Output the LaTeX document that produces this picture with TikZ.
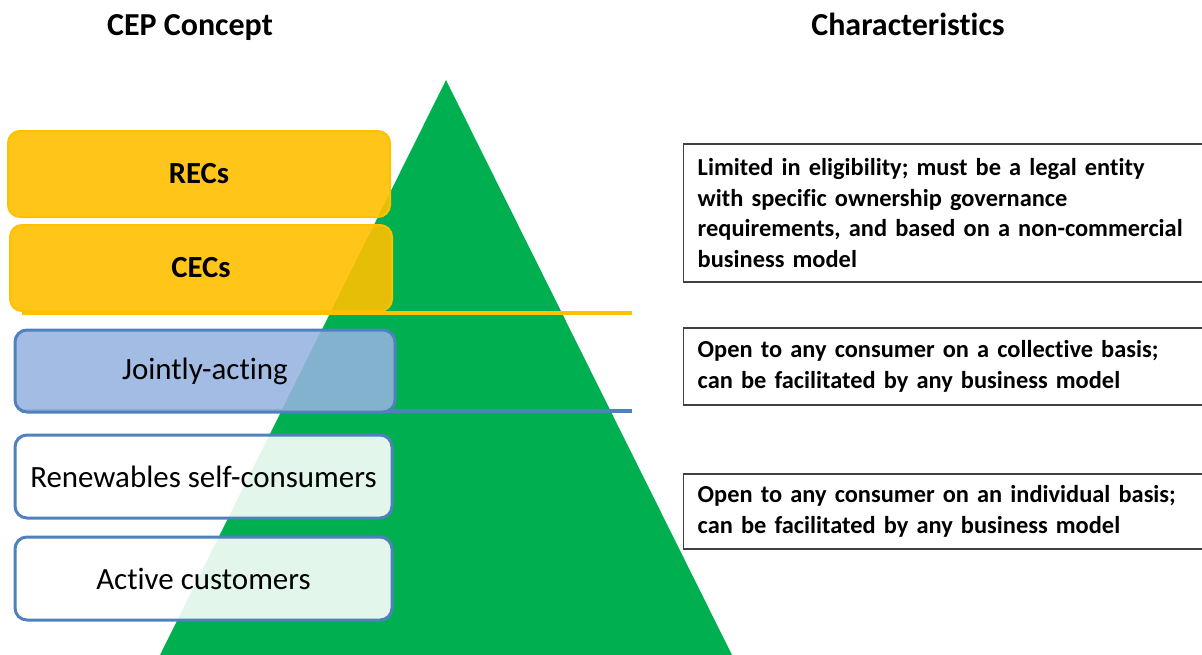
\documentclass[tikz,border=0pt]{standalone}
\usepackage{fontspec}
\setmainfont{Carlito}[Ligatures={NoCommon,NoRequired}, Contextuals=NoAlternate]
\definecolor{trigreen}{HTML}{00B050}
\definecolor{goldline}{HTML}{FFC000}
\definecolor{goldfill}{HTML}{FFC000}
\definecolor{bluefill}{HTML}{95B3E0}
\definecolor{blueline}{HTML}{4F81BD}
\definecolor{charline}{HTML}{404040}
\begin{document}
\begin{tikzpicture}[x=0.75pt,y=-0.75pt,
  header/.style={font=\fontsize{24pt}{28pt}\selectfont\bfseries, inner sep=0pt, anchor=base},
  ybox/.style={draw=goldline, line width=1.5pt, fill=goldfill, fill opacity=0.9, text opacity=1,
    rounded corners=9pt, font=\fontsize{23pt}{27pt}\selectfont\bfseries, inner sep=0pt},
  bbox/.style={draw=blueline, line width=2.25pt, fill=bluefill, fill opacity=0.88, text opacity=1,
    rounded corners=9pt, font=\fontsize{23.2pt}{27pt}\selectfont, inner sep=0pt},
  wbox/.style={draw=blueline, line width=2.25pt, fill=white, fill opacity=0.89, text opacity=1,
    rounded corners=9pt, font=\fontsize{23.2pt}{27pt}\selectfont, inner sep=0pt},
  charbox/.style={draw=charline, line width=1.1pt, anchor=west, align=left,
    text width=382.5pt, inner xsep=10.5pt, inner ysep=0pt,
    font=\fontsize{18.3pt}{22.9pt}\selectfont\bfseries},
  sepline/.style={line width=2.4pt}
]
\useasboundingbox (0,0) rectangle (1202,654);
% pyramid
\fill[trigreen] (446,80) -- (160,655) -- (732,655) -- cycle;
% headers
\node[header] (hcep) at (190,35) {CEP Concept};
\node[header] (hchar) at (908,35) {Characteristics};
% separator lines
\coordinate (ya) at (22,313);
\coordinate (yb) at (632,313);
\coordinate (ba) at (22,411);
\coordinate (bb) at (632,411);
\draw[sepline, goldline] (ya) -- (yb);
\draw[sepline, blueline] (ba) -- (bb);
% concept boxes
\node[ybox, minimum width=382*0.75pt, minimum height=86*0.75pt] (recs) at (199,174) {RECs};
\node[ybox, minimum width=382*0.75pt, minimum height=86*0.75pt] (cecs) at (201,268) {CECs};
\node[bbox, minimum width=380*0.75pt, minimum height=82*0.75pt] (joint) at (205,371) {Jointly-acting};
\node[wbox, minimum width=377*0.75pt, minimum height=83*0.75pt] (renew) at (203.5,476.5) {Renewables self-consumers};
\node[wbox, minimum width=377*0.75pt, minimum height=83*0.75pt] (active) at (203.5,578.5) {Active customers};
% characteristics
\node[charbox, minimum height=138*0.75pt] (c1) at (683,213) {Limited in eligibility; must be a legal entity\\with specific ownership governance\\requirements, and based on a non-commercial\\business model};
\node[charbox, minimum height=77*0.75pt] (c2) at (683,366.5) {Open to any consumer on a collective basis;\\can be facilitated by any business model};
\node[charbox, minimum height=75*0.75pt] (c3) at (683,511.5) {Open to any consumer on an individual basis;\\can be facilitated by any business model};
\end{tikzpicture}
\end{document}
